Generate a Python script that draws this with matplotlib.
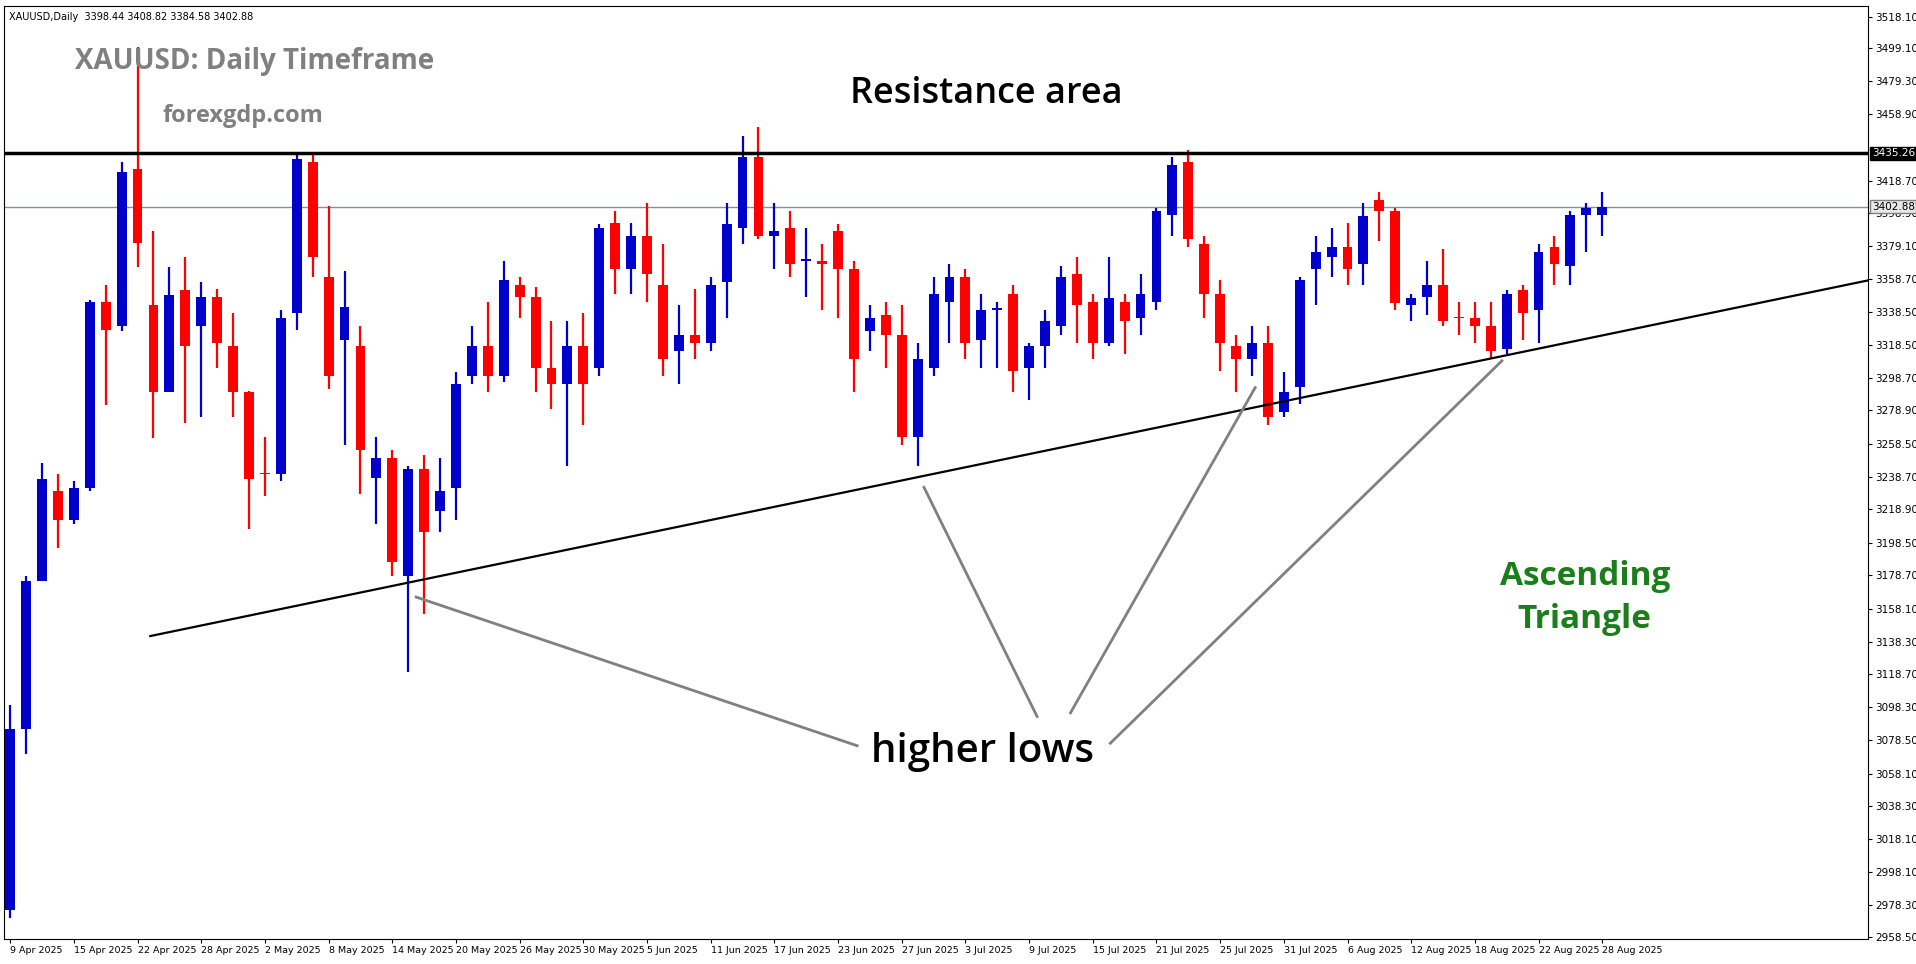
import numpy as np
import matplotlib.pyplot as plt

# OHLC (XAUUSD daily, 9 Apr - 28 Aug 2025)
opens = [2975, 3085, 3175, 3230, 3212, 3232, 3345, 3330, 3426, 3343,
         3290, 3352, 3330, 3348, 3318, 3290, 3241, 3240, 3338, 3430,
         3360, 3322, 3318, 3238, 3250, 3178, 3243, 3218, 3232, 3300,
         3318, 3300, 3355, 3348, 3305, 3295, 3318, 3305, 3393, 3365,
         3385, 3355, 3315, 3325, 3320, 3357, 3390, 3433, 3385, 3390,
         3370, 3370, 3388, 3365, 3327, 3337, 3325, 3263, 3305, 3345,
         3360, 3322, 3340, 3350, 3305, 3318, 3330, 3362, 3345, 3320,
         3345, 3335, 3345, 3398, 3430, 3380, 3350, 3318, 3310, 3320,
         3278, 3293, 3365, 3372, 3378, 3368, 3407, 3400, 3343, 3348,
         3355, 3336, 3335, 3330, 3316, 3352, 3340, 3378, 3367, 3398,
         3398]
highs = [3100, 3178, 3247, 3240, 3236, 3346, 3355, 3430, 3500, 3388,
         3366, 3372, 3357, 3353, 3338, 3291, 3263, 3340, 3436, 3434,
         3403, 3364, 3330, 3263, 3255, 3245, 3252, 3250, 3302, 3330,
         3345, 3370, 3360, 3354, 3333, 3333, 3338, 3392, 3400, 3393,
         3405, 3380, 3343, 3353, 3360, 3405, 3446, 3451, 3405, 3400,
         3390, 3380, 3392, 3370, 3343, 3345, 3343, 3320, 3360, 3368,
         3365, 3350, 3345, 3355, 3320, 3340, 3367, 3372, 3350, 3372,
         3350, 3362, 3402, 3433, 3437, 3385, 3358, 3325, 3330, 3330,
         3302, 3360, 3385, 3390, 3393, 3405, 3412, 3402, 3350, 3370,
         3377, 3345, 3345, 3345, 3352, 3355, 3380, 3385, 3400, 3405,
         3412]
lows = [2970, 3070, 3175, 3195, 3210, 3230, 3282, 3327, 3366, 3262,
        3290, 3271, 3275, 3305, 3275, 3207, 3227, 3236, 3328, 3360,
        3292, 3258, 3228, 3210, 3178, 3120, 3155, 3205, 3212, 3295,
        3290, 3296, 3335, 3290, 3280, 3245, 3270, 3300, 3350, 3350,
        3345, 3300, 3295, 3310, 3315, 3335, 3380, 3383, 3365, 3360,
        3348, 3340, 3335, 3290, 3315, 3305, 3258, 3245, 3300, 3320,
        3310, 3305, 3305, 3290, 3285, 3305, 3325, 3320, 3310, 3318,
        3313, 3325, 3340, 3385, 3378, 3335, 3303, 3290, 3300, 3270,
        3275, 3283, 3343, 3360, 3355, 3355, 3382, 3340, 3333, 3337,
        3330, 3325, 3320, 3310, 3313, 3322, 3320, 3355, 3355, 3375,
        3385]
closes = [3085, 3175, 3237, 3212, 3232, 3345, 3328, 3424, 3381, 3290,
          3349, 3318, 3348, 3320, 3290, 3237, 3240, 3335, 3432, 3372,
          3300, 3342, 3255, 3250, 3187, 3243, 3205, 3230, 3295, 3318,
          3300, 3358, 3348, 3305, 3295, 3318, 3295, 3390, 3365, 3385,
          3362, 3310, 3325, 3320, 3355, 3392, 3433, 3385, 3388, 3368,
          3371, 3368, 3365, 3310, 3335, 3325, 3263, 3310, 3350, 3360,
          3320, 3340, 3341, 3303, 3318, 3333, 3360, 3343, 3320, 3347,
          3333, 3350, 3400, 3428, 3383, 3350, 3320, 3310, 3320, 3275,
          3290, 3358, 3375, 3378, 3365, 3397, 3400, 3344, 3347, 3355,
          3333, 3335, 3330, 3315, 3350, 3338, 3375, 3368, 3398, 3402,
          3402.88]

date_labels = ['9 Apr 2025', '15 Apr 2025', '22 Apr 2025', '28 Apr 2025', '2 May 2025',
               '8 May 2025', '14 May 2025', '20 May 2025', '26 May 2025', '30 May 2025',
               '5 Jun 2025', '11 Jun 2025', '17 Jun 2025', '23 Jun 2025', '27 Jun 2025',
               '3 Jul 2025', '9 Jul 2025', '15 Jul 2025', '21 Jul 2025', '25 Jul 2025',
               '31 Jul 2025', '6 Aug 2025', '12 Aug 2025', '18 Aug 2025', '22 Aug 2025',
               '28 Aug 2025']
price_ticks = [3518.10, 3499.10, 3479.30, 3458.90, 3418.70, 3398.90, 3379.10,
               3358.70, 3338.50, 3318.50, 3298.70, 3278.90, 3258.50, 3238.70,
               3218.90, 3198.50, 3178.70, 3158.10, 3138.30, 3118.70, 3098.30,
               3078.50, 3058.10, 3038.30, 3018.10, 2998.10, 2978.30, 2958.50]

resistance = 3435.26
last_price = 3402.88
trend_x = [8.8, 116.7]
trend_y = [3141.7, 3358.0]
# pointer lines: (from, to) in (bar index, price)
pointers = [((25.5, 3165.4), (53.2, 3075.0)),
            ((57.4, 3232.1), (64.5, 3092.8)),
            ((78.2, 3292.8), (66.6, 3095.0)),
            ((93.7, 3309.1), (69.1, 3076.5))]

BLUE = '#0000cc'
RED = '#ff0000'

fig = plt.figure(figsize=(19.16, 9.64), dpi=100)
ax = fig.add_axes([0.002, 0.026, 0.973, 0.968])

o = np.array(opens, float)
h = np.array(highs, float)
l = np.array(lows, float)
c = np.array(closes, float)
x = np.arange(len(o))
colors = [BLUE if cc >= oo else RED for oo, cc in zip(o, c)]

ax.vlines(x, l, h, colors=colors, lw=1.6, zorder=2)
body = np.maximum(np.abs(c - o), 1.0)
ax.bar(x, body, bottom=np.minimum(o, c), width=0.62, color=colors, zorder=3)

ax.axhline(resistance, color='black', lw=2.5, zorder=4)
ax.axhline(last_price, color='#8090a0', lw=1, zorder=1)
ax.plot(trend_x, trend_y, color='black', lw=1.6, zorder=4)
for (x0, y0), (x1, y1) in pointers:
    ax.plot([x0, x1], [y0, y1], color='#808080', lw=2, zorder=4)

ax.set_xlim(-0.4, 116.7)
ax.set_ylim(2957.5, 3525)

ax.yaxis.tick_right()
ax.set_yticks(price_ticks)
ax.set_yticklabels([f'{v:.2f}' for v in price_ticks], fontsize=7.5)
ax.set_xticks(np.arange(0, len(o), 4))
ax.set_xticklabels(date_labels, fontsize=6.8, ha='left')
ax.tick_params(axis='both', length=3, pad=2)
for s in ax.spines.values():
    s.set_color('black')

# price tags on the right axis
ax.text(1.002, resistance, f'{resistance:.2f}', transform=ax.get_yaxis_transform(),
        fontsize=7.5, color='white', va='center', ha='left',
        bbox=dict(boxstyle='square,pad=0.15', fc='black', ec='black'))
ax.text(1.002, last_price, f'{last_price:.2f}', transform=ax.get_yaxis_transform(),
        fontsize=7.5, color='black', va='center', ha='left',
        bbox=dict(boxstyle='square,pad=0.15', fc='#e8e8e8', ec='#808080'))

ax.text(0.003, 0.993, 'XAUUSD,Daily  3398.44 3408.82 3384.58 3402.88', transform=ax.transAxes,
        fontsize=7, va='top', ha='left')
ax.text(0.038, 0.94, 'XAUUSD: Daily Timeframe', transform=ax.transAxes, fontsize=20,
        fontweight='bold', color='#808080', family='Open Sans', va='center')
ax.text(0.085, 0.882, 'forexgdp.com', transform=ax.transAxes, fontsize=17,
        fontweight='bold', color='#808080', family='Open Sans', va='center')
ax.text(0.527, 0.905, 'Resistance area', transform=ax.transAxes, fontsize=26,
        fontweight='semibold', color='black', family='Open Sans', ha='center', va='center')
ax.text(0.525, 0.2, 'higher lows', transform=ax.transAxes, fontsize=29,
        fontweight='semibold', color='black', family='Open Sans', ha='center', va='center')
ax.text(0.848, 0.365, 'Ascending\nTriangle', transform=ax.transAxes, fontsize=24,
        fontweight='bold', color='#1a7f1a', family='Open Sans', ha='center',
        va='center', linespacing=1.4)

fig.savefig('out.png', dpi=100)
